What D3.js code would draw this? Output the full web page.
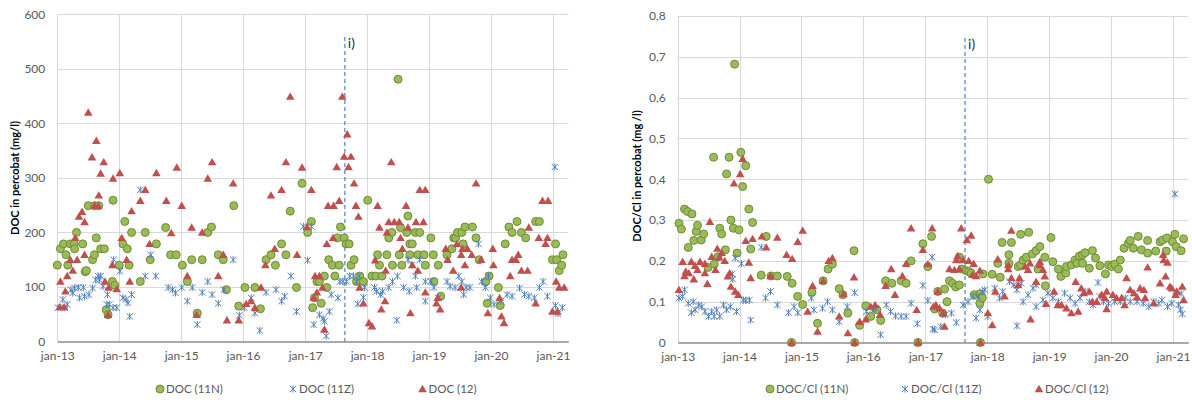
<!DOCTYPE html>
<html>
<head>
<meta charset="utf-8">
<script src="https://cdn.jsdelivr.net/npm/d3@7"></script>
<style>
  body { margin: 0; background: #fff; }
  svg { display: block; font-family: Lato, "Open Sans", sans-serif; }
</style>
</head>
<body>
<svg id="chart" width="1192" height="403"></svg>
<script>
// Sampling dates are written as decimal years; values in mg/l (DOC) and as ratios (DOC/Cl).

const X_TICK_YEARS = [2013, 2014, 2015, 2016, 2017, 2018, 2019, 2020, 2021];
const DOC_Y_TICKS = [0, 100, 200, 300, 400, 500, 600];
const RATIO_Y_TICKS = [0, 0.1, 0.2, 0.3, 0.4, 0.5, 0.6, 0.7, 0.8];
const EVENT_YEAR = 2017.641;
const EVENT_LABEL = "i)";

const DOC_11N = [[2013.00,140],[2013.05,170],[2013.10,179],[2013.14,159],[2013.17,140],[2013.21,179],[2013.27,179],[2013.28,170],[2013.31,200],[2013.41,179],[2013.45,128],[2013.47,130],[2013.50,249],[2013.57,150],[2013.60,249],[2013.60,159],[2013.63,190],[2013.67,249],[2013.70,170],[2013.76,170],[2013.79,58],[2013.82,49],[2013.89,110],[2013.90,259],[2013.93,103],[2014.00,140],[2014.06,179],[2014.09,220],[2014.13,170],[2014.16,140],[2014.20,200],[2014.34,110],[2014.42,200],[2014.50,150],[2014.60,179],[2014.75,209],[2014.83,159],[2014.92,159],[2015.02,140],[2015.10,110],[2015.17,150],[2015.26,52],[2015.34,150],[2015.43,200],[2015.49,210],[2015.60,159],[2015.68,150],[2015.73,95],[2015.85,249],[2015.93,65],[2016.03,99],[2016.19,99],[2016.28,60],[2016.37,150],[2016.45,159],[2016.52,140],[2016.62,179],[2016.69,159],[2016.76,239],[2016.86,99],[2016.95,290],[2017.04,200],[2017.10,220],[2017.12,62],[2017.15,80],[2017.19,110],[2017.23,110],[2017.26,70],[2017.31,120],[2017.35,99],[2017.38,150],[2017.44,140],[2017.48,120],[2017.52,190],[2017.55,140],[2017.57,210],[2017.63,190],[2017.66,179],[2017.71,179],[2017.74,140],[2017.79,150],[2017.83,110],[2017.88,120],[2017.94,110],[2018.01,259],[2018.08,120],[2018.14,120],[2018.17,159],[2018.20,140],[2018.24,120],[2018.32,159],[2018.35,190],[2018.40,200],[2018.41,140],[2018.50,481],[2018.52,159],[2018.54,209],[2018.56,140],[2018.64,200],[2018.66,230],[2018.69,159],[2018.69,179],[2018.73,179],[2018.78,200],[2018.82,159],[2018.85,200],[2018.92,159],[2018.94,140],[2019.03,190],[2019.07,159],[2019.08,110],[2019.15,140],[2019.19,83],[2019.29,159],[2019.37,170],[2019.40,190],[2019.43,190],[2019.46,200],[2019.53,200],[2019.55,179],[2019.58,210],[2019.70,210],[2019.76,190],[2019.81,150],[2019.92,110],[2019.94,70],[2019.97,120],[2020.12,99],[2020.15,66],[2020.23,179],[2020.29,210],[2020.34,200],[2020.42,220],[2020.49,200],[2020.56,190],[2020.72,220],[2020.78,220],[2020.99,150],[2021.04,179],[2021.06,150],[2021.10,130],[2021.14,140],[2021.16,159]];

const DOC_11Z = [[2013.01,62],[2013.09,77],[2013.12,62],[2013.16,68],[2013.22,95],[2013.25,89],[2013.28,98],[2013.34,99],[2013.36,80],[2013.42,99],[2013.44,83],[2013.51,86],[2013.57,98],[2013.62,113],[2013.66,120],[2013.68,113],[2013.70,120],[2013.74,101],[2013.80,68],[2013.81,86],[2013.84,68],[2013.90,62],[2013.91,150],[2013.96,62],[2014.01,129],[2014.06,80],[2014.11,77],[2014.14,71],[2014.17,46],[2014.20,86],[2014.34,278],[2014.42,120],[2014.51,159],[2014.59,120],[2014.79,99],[2014.86,95],[2014.91,89],[2015.01,99],[2015.10,74],[2015.18,99],[2015.26,31],[2015.34,90],[2015.43,110],[2015.50,86],[2015.60,70],[2015.69,95],[2015.84,150],[2015.94,48],[2016.02,62],[2016.13,80],[2016.19,52],[2016.27,20],[2016.37,90],[2016.53,95],[2016.62,74],[2016.67,83],[2016.77,120],[2016.86,55],[2016.97,211],[2017.04,149],[2017.10,211],[2017.14,31],[2017.23,49],[2017.29,42],[2017.31,37],[2017.34,10],[2017.39,55],[2017.42,86],[2017.53,80],[2017.56,110],[2017.61,110],[2017.67,110],[2017.72,120],[2017.78,120],[2017.83,110],[2017.85,69],[2017.87,120],[2017.94,81],[2017.96,99],[2018.12,99],[2018.15,92],[2018.22,86],[2018.25,92],[2018.35,99],[2018.41,110],[2018.48,39],[2018.49,120],[2018.59,99],[2018.66,150],[2018.68,92],[2018.72,140],[2018.78,120],[2018.80,99],[2018.85,150],[2018.94,110],[2018.94,74],[2019.03,110],[2019.08,99],[2019.15,80],[2019.29,110],[2019.34,101],[2019.42,99],[2019.48,120],[2019.53,110],[2019.56,86],[2019.60,99],[2019.66,99],[2019.80,179],[2019.85,110],[2019.91,99],[2019.96,120],[2019.99,80],[2020.05,68],[2020.16,74],[2020.26,86],[2020.34,83],[2020.46,98],[2020.54,86],[2020.61,83],[2020.70,80],[2020.78,99],[2020.84,110],[2020.91,83],[2021.03,320],[2021.04,66],[2021.08,51],[2021.15,62]];

const DOC_12 = [[2013.04,63],[2013.05,110],[2013.11,63],[2013.13,92],[2013.16,120],[2013.21,150],[2013.25,130],[2013.29,190],[2013.32,150],[2013.35,229],[2013.40,238],[2013.44,219],[2013.44,159],[2013.50,420],[2013.56,338],[2013.60,249],[2013.63,368],[2013.66,249],[2013.67,268],[2013.70,308],[2013.75,329],[2013.77,110],[2013.82,49],[2013.83,99],[2013.89,140],[2013.90,299],[2013.96,96],[2014.01,309],[2014.04,190],[2014.12,150],[2014.17,110],[2014.20,239],[2014.34,258],[2014.42,278],[2014.49,179],[2014.60,309],[2014.76,258],[2014.84,199],[2014.93,319],[2015.01,249],[2015.10,120],[2015.17,209],[2015.25,49],[2015.34,200],[2015.43,299],[2015.50,329],[2015.60,120],[2015.68,159],[2015.74,39],[2015.84,290],[2015.93,39],[2016.05,69],[2016.13,74],[2016.19,62],[2016.29,99],[2016.36,140],[2016.45,268],[2016.51,170],[2016.62,278],[2016.69,329],[2016.76,449],[2016.87,159],[2016.95,319],[2017.03,210],[2017.10,278],[2017.14,80],[2017.16,120],[2017.19,90],[2017.23,120],[2017.28,99],[2017.31,22],[2017.35,179],[2017.37,249],[2017.45,190],[2017.46,249],[2017.51,320],[2017.55,258],[2017.60,449],[2017.63,339],[2017.68,380],[2017.70,320],[2017.74,339],[2017.79,290],[2017.82,249],[2017.86,229],[2017.88,99],[2017.94,70],[2018.03,34],[2018.08,28],[2018.13,149],[2018.17,249],[2018.20,209],[2018.23,59],[2018.29,74],[2018.30,130],[2018.32,200],[2018.35,219],[2018.39,329],[2018.44,219],[2018.52,219],[2018.54,190],[2018.57,170],[2018.63,249],[2018.66,209],[2018.70,52],[2018.73,140],[2018.79,219],[2018.82,130],[2018.85,278],[2018.91,219],[2018.94,278],[2018.94,90],[2019.12,70],[2019.14,80],[2019.18,59],[2019.27,170],[2019.30,150],[2019.39,130],[2019.45,179],[2019.52,159],[2019.52,99],[2019.54,170],[2019.58,140],[2019.62,170],[2019.69,159],[2019.76,290],[2019.84,150],[2019.95,52],[2020.03,170],[2020.04,140],[2020.14,80],[2020.17,46],[2020.21,34],[2020.31,120],[2020.34,150],[2020.40,150],[2020.44,159],[2020.49,130],[2020.59,130],[2020.61,209],[2020.72,70],[2020.77,190],[2020.83,258],[2020.88,179],[2020.91,190],[2020.92,258],[2020.99,55],[2021.05,110],[2021.07,55],[2021.10,99],[2021.18,99]];

const RATIO_11N = [[2013.02,0.292],[2013.06,0.278],[2013.11,0.327],[2013.16,0.321],[2013.17,0.233],[2013.23,0.315],[2013.26,0.25],[2013.30,0.272],[2013.32,0.287],[2013.38,0.251],[2013.42,0.266],[2013.49,0.184],[2013.58,0.454],[2013.59,0.192],[2013.65,0.21],[2013.68,0.28],[2013.71,0.266],[2013.77,0.227],[2013.79,0.413],[2013.83,0.454],[2013.86,0.30],[2013.90,0.28],[2013.92,0.682],[2013.96,0.219],[2013.99,0.276],[2014.02,0.466],[2014.05,0.382],[2014.10,0.433],[2014.15,0.327],[2014.18,0.229],[2014.21,0.294],[2014.35,0.165],[2014.43,0.26],[2014.51,0.163],[2014.61,0.163],[2014.77,0.162],[2014.84,0],[2014.85,0.145],[2014.94,0.113],[2015.02,0.093],[2015.17,0.123],[2015.26,0.047],[2015.35,0.151],[2015.43,0.18],[2015.50,0.192],[2015.61,0.132],[2015.67,0.117],[2015.75,0.072],[2015.85,0.225],[2015.86,0],[2015.94,0.042],[2016.04,0.09],[2016.12,0.064],[2016.22,0.08],[2016.28,0.054],[2016.36,0.151],[2016.46,0.145],[2016.61,0.151],[2016.69,0.145],[2016.77,0.2],[2016.88,0],[2016.96,0.242],[2017.04,0.186],[2017.10,0.26],[2017.15,0.082],[2017.20,0.125],[2017.28,0.072],[2017.31,0.131],[2017.35,0.1],[2017.39,0.151],[2017.44,0.145],[2017.49,0.136],[2017.55,0.141],[2017.55,0.209],[2017.59,0.18],[2017.66,0.176],[2017.70,0.174],[2017.74,0.17],[2017.79,0.117],[2017.88,0.119],[2017.88,0.096],[2017.89,0],[2017.92,0.109],[2017.93,0.168],[2018.02,0.40],[2018.08,0.167],[2018.17,0.194],[2018.21,0.16],[2018.24,0.245],[2018.35,0.215],[2018.35,0.194],[2018.39,0.245],[2018.50,0.186],[2018.54,0.19],[2018.54,0.265],[2018.58,0.202],[2018.63,0.209],[2018.67,0.27],[2018.73,0.217],[2018.79,0.225],[2018.82,0.18],[2018.85,0.235],[2018.93,0.209],[2018.94,0.139],[2019.03,0.257],[2019.06,0.198],[2019.15,0.18],[2019.19,0.162],[2019.27,0.17],[2019.28,0.186],[2019.36,0.19],[2019.42,0.202],[2019.45,0.194],[2019.49,0.212],[2019.54,0.215],[2019.54,0.194],[2019.58,0.22],[2019.65,0.182],[2019.70,0.225],[2019.75,0.207],[2019.82,0.188],[2019.91,0.168],[2019.96,0.19],[2020.01,0.186],[2020.06,0.192],[2020.12,0.18],[2020.15,0.202],[2020.21,0.231],[2020.28,0.243],[2020.31,0.25],[2020.36,0.231],[2020.44,0.26],[2020.49,0.227],[2020.59,0.25],[2020.59,0.219],[2020.72,0.224],[2020.79,0.247],[2020.83,0.251],[2020.89,0.224],[2020.90,0.256],[2020.99,0.247],[2021.03,0.265],[2021.05,0.235],[2021.13,0.225],[2021.17,0.254]];

const RATIO_11Z = [[2013.02,0.109],[2013.08,0.113],[2013.11,0.129],[2013.17,0.096],[2013.22,0.073],[2013.25,0.1],[2013.28,0.08],[2013.34,0.092],[2013.39,0.088],[2013.44,0.076],[2013.50,0.064],[2013.55,0.076],[2013.59,0.064],[2013.63,0.08],[2013.68,0.064],[2013.74,0.092],[2013.79,0.08],[2013.85,0.088],[2013.88,0.168],[2013.89,0.155],[2013.93,0.207],[2013.95,0.076],[2014.03,0.193],[2014.06,0.104],[2014.10,0.103],[2014.16,0.104],[2014.18,0.055],[2014.35,0.233],[2014.42,0.109],[2014.50,0.125],[2014.61,0.092],[2014.79,0.073],[2014.88,0.088],[2014.94,0.073],[2015.16,0.109],[2015.20,0.08],[2015.34,0.084],[2015.42,0.1],[2015.50,0.08],[2015.61,0.051],[2015.74,0.088],[2015.86,0.122],[2016.05,0.076],[2016.15,0.082],[2016.20,0.084],[2016.28,0.019],[2016.37,0.092],[2016.44,0.076],[2016.52,0.065],[2016.61,0.064],[2016.69,0.064],[2016.77,0.096],[2016.87,0.046],[2016.96,0.14],[2017.04,0.103],[2017.11,0.209],[2017.12,0.033],[2017.15,0.031],[2017.25,0.039],[2017.32,0.068],[2017.42,0.072],[2017.50,0.049],[2017.61,0.092],[2017.69,0.1],[2017.77,0.113],[2017.82,0.06],[2017.85,0.113],[2017.88,0.08],[2017.92,0.125],[2017.96,0.129],[2018.01,0.064],[2018.12,0.133],[2018.20,0.109],[2018.25,0.125],[2018.36,0.149],[2018.43,0.141],[2018.48,0.129],[2018.48,0.041],[2018.55,0.145],[2018.58,0.1],[2018.66,0.117],[2018.74,0.133],[2018.79,0.141],[2018.79,0.088],[2018.90,0.104],[2018.98,0.121],[2019.06,0.109],[2019.15,0.1],[2019.25,0.121],[2019.34,0.109],[2019.42,0.096],[2019.50,0.109],[2019.58,0.125],[2019.65,0.1],[2019.71,0.092],[2019.79,0.147],[2019.82,0.113],[2019.88,0.1],[2019.96,0.096],[2020.06,0.1],[2020.15,0.1],[2020.23,0.109],[2020.31,0.1],[2020.42,0.1],[2020.52,0.096],[2020.61,0.088],[2020.69,0.1],[2020.77,0.096],[2020.82,0.104],[2020.91,0.088],[2020.98,0.096],[2021.03,0.364],[2021.09,0.092],[2021.12,0.08],[2021.13,0.12],[2021.15,0.07]];

const RATIO_12 = [[2013.02,0.129],[2013.08,0.198],[2013.11,0.163],[2013.13,0.174],[2013.18,0.17],[2013.22,0.198],[2013.26,0.155],[2013.28,0.188],[2013.32,0.178],[2013.36,0.198],[2013.44,0.193],[2013.44,0.17],[2013.48,0.144],[2013.52,0.296],[2013.55,0.21],[2013.61,0.178],[2013.64,0.23],[2013.67,0.209],[2013.71,0.22],[2013.76,0.2],[2013.81,0.162],[2013.84,0.17],[2013.86,0.137],[2013.91,0.39],[2013.93,0.125],[2013.98,0.117],[2014.01,0.413],[2014.05,0.45],[2014.10,0.249],[2014.15,0.196],[2014.18,0.158],[2014.21,0.254],[2014.36,0.26],[2014.43,0.233],[2014.50,0.163],[2014.61,0.257],[2014.76,0.215],[2014.84,0],[2014.85,0.205],[2014.94,0.247],[2015.02,0.274],[2015.10,0.076],[2015.18,0.139],[2015.26,0.027],[2015.35,0.151],[2015.44,0.2],[2015.50,0.207],[2015.61,0.064],[2015.68,0.119],[2015.75,0.023],[2015.85,0.16],[2015.86,0],[2015.94,0.051],[2016.04,0.057],[2016.12,0.088],[2016.19,0.092],[2016.27,0.068],[2016.36,0.139],[2016.45,0.18],[2016.51,0.117],[2016.63,0.163],[2016.69,0.193],[2016.77,0.28],[2016.86,0.08],[2016.88,0],[2016.96,0.227],[2017.04,0.192],[2017.11,0.28],[2017.13,0.088],[2017.17,0.092],[2017.20,0.125],[2017.23,0.084],[2017.29,0.072],[2017.31,0.039],[2017.39,0.18],[2017.47,0.178],[2017.50,0.202],[2017.52,0.212],[2017.55,0.18],[2017.58,0.28],[2017.61,0.202],[2017.67,0.251],[2017.70,0.2],[2017.74,0.262],[2017.76,0.166],[2017.78,0.193],[2017.82,0.163],[2017.88,0.176],[2017.89,0],[2018.01,0.072],[2018.08,0.043],[2018.13,0.125],[2018.17,0.204],[2018.28,0.113],[2018.34,0.19],[2018.34,0.18],[2018.39,0.274],[2018.39,0.158],[2018.50,0.141],[2018.52,0.158],[2018.61,0.186],[2018.66,0.178],[2018.69,0.194],[2018.70,0.057],[2018.79,0.149],[2018.85,0.19],[2018.85,0.198],[2018.90,0.178],[2018.93,0.162],[2018.95,0.095],[2019.08,0.125],[2019.14,0.092],[2019.20,0.092],[2019.28,0.084],[2019.36,0.072],[2019.43,0.149],[2019.47,0.076],[2019.52,0.133],[2019.56,0.121],[2019.65,0.125],[2019.70,0.1],[2019.77,0.1],[2019.85,0.117],[2019.90,0.109],[2019.93,0.125],[2019.93,0.082],[2020.03,0.117],[2020.09,0.109],[2020.17,0.109],[2020.22,0.092],[2020.25,0.158],[2020.31,0.129],[2020.37,0.121],[2020.42,0.111],[2020.47,0.133],[2020.53,0.129],[2020.55,0.109],[2020.59,0.184],[2020.69,0.096],[2020.79,0.145],[2020.84,0.215],[2020.85,0.202],[2020.88,0.162],[2020.91,0.196],[2020.95,0.137],[2020.98,0.133],[2021.04,0.117],[2021.06,0.125],[2021.15,0.137],[2021.17,0.104]];

const COLORS = { n: "#9BBB59", nStroke: "#6E8C33", z: "#4F81BD", r: "#C0504D" };
const TEXT = "#595959";

const svg = d3.select("#chart");

// decimal year -> Date
function toDate(v) {
  const yr = Math.floor(v);
  const a = new Date(yr, 0, 1), b = new Date(yr + 1, 0, 1);
  return new Date(+a + (v - yr) * (b - a));
}

const markers = {
  circle: (g, color) => g.append("circle").attr("r", 4)
    .attr("fill", COLORS.n).attr("stroke", COLORS.nStroke).attr("stroke-width", 1),
  star: (g, color) => g.append("path")
    .attr("d", "M0,-3.6V3.6M-3.2,-3.2L3.2,3.2M-3.2,3.2L3.2,-3.2")
    .attr("stroke", COLORS.z).attr("stroke-width", 1).attr("fill", "none"),
  tri: (g, color) => g.append("path")
    .attr("d", "M0,-4.2L4.3,3.2L-4.3,3.2Z").attr("fill", COLORS.r)
};

function drawPanel(cfg) {
  const x = d3.scaleTime()
    .domain([new Date(2013, 0, 1), new Date(2021, 3, 1)])
    .range([cfg.x0, cfg.x1]);
  const y = d3.scaleLinear().domain([0, cfg.yMax]).range([cfg.yBottom, cfg.yTop]);
  const g = svg.append("g");
  const yearDates = X_TICK_YEARS.map(v => new Date(v, 0, 1));

  // gridlines
  g.append("g").selectAll("line").data(cfg.yTicks.filter(d => d > 0)).join("line")
    .attr("x1", cfg.x0).attr("x2", cfg.x1)
    .attr("y1", d => Math.round(y(d)) + 0.5).attr("y2", d => Math.round(y(d)) + 0.5)
    .attr("stroke", "#d9d9d9");
  g.append("g").selectAll("line").data(yearDates).join("line")
    .attr("x1", d => Math.round(x(d)) + 0.5).attr("x2", d => Math.round(x(d)) + 0.5)
    .attr("y1", y(cfg.yMax)).attr("y2", y(0))
    .attr("stroke", "#d9d9d9");

  // axes
  const xAxis = g.append("g").attr("transform", `translate(0,${y(0)})`)
    .call(d3.axisBottom(x).tickValues(yearDates).tickFormat(d3.timeFormat("jan-%y")).tickSize(0).tickPadding(10));
  xAxis.select(".domain").attr("stroke", "#8c8c8c").attr("stroke-width", 1.5);
  xAxis.selectAll("text").attr("fill", TEXT).style("font-size", "12px").style("font-family", "Lato, sans-serif");

  const yAxis = g.append("g").attr("transform", `translate(${cfg.x0},0)`)
    .call(d3.axisLeft(y).tickValues(cfg.yTicks).tickFormat(cfg.yFormat).tickSize(0).tickPadding(12));
  yAxis.select(".domain").remove();
  yAxis.selectAll("text").attr("fill", TEXT).style("font-size", "12px").style("font-family", "Lato, sans-serif");

  // axis title
  g.append("text")
    .attr("transform", `translate(${cfg.titleX},${cfg.titleY}) rotate(-90)`)
    .attr("text-anchor", "middle").attr("dy", "0.35em")
    .style("font-size", "11px").style("font-weight", "bold").attr("fill", "#000")
    .text(cfg.yTitle);

  // event line
  const ex = x(toDate(EVENT_YEAR));
  g.append("line").attr("x1", ex).attr("x2", ex).attr("y1", cfg.eventTop).attr("y2", y(0))
    .attr("stroke", "#4F81BD").attr("stroke-width", 1.2).attr("stroke-dasharray", "4,3");
  g.append("text").attr("x", ex + 3).attr("y", cfg.eventTop + 11)
    .style("font-size", "14px").attr("fill", "#1F2D50").text(EVENT_LABEL);

  // series
  cfg.series.forEach(s => {
    const pts = g.append("g").selectAll("g").data(s.data).join("g")
      .attr("transform", d => `translate(${x(toDate(d[0]))},${y(d[1])})`);
    pts.each(function () { markers[s.marker](d3.select(this)); });
  });

  // legend
  cfg.series.forEach((s, i) => {
    const lg = g.append("g").attr("transform", `translate(${cfg.legendX[i]},${cfg.legendY})`);
    markers[s.marker](lg);
    lg.append("text").attr("x", 6).attr("dy", "0.35em").attr("fill", TEXT)
      .style("font-size", "11.5px").text(s.name);
  });
}

drawPanel({
  x0: 57.3, x1: 568.3, yBottom: 341.5, yTop: 14.3, yMax: 600,
  yTicks: DOC_Y_TICKS, yFormat: d3.format("d"),
  yTitle: "DOC in percobat (mg/l)", titleX: 15, titleY: 178,
  eventTop: 37,
  legendX: [160, 293, 422.5], legendY: 389,
  series: [
    { name: "DOC (11N)", data: DOC_11N, marker: "circle" },
    { name: "DOC (11Z)", data: DOC_11Z, marker: "star" },
    { name: "DOC (12)", data: DOC_12, marker: "tri" }
  ]
});

drawPanel({
  x0: 677.7, x1: 1188.3, yBottom: 342.5, yTop: 16, yMax: 0.8,
  yTicks: RATIO_Y_TICKS, yFormat: d => d === 0 ? "0" : d3.format(".1f")(d).replace(".", ","),
  yTitle: "DOC/Cl in percobat (mg /l)", titleX: 637, titleY: 176,
  eventTop: 38,
  legendX: [770, 905, 1039], legendY: 389,
  series: [
    { name: "DOC/Cl (11N)", data: RATIO_11N, marker: "circle" },
    { name: "DOC/Cl (11Z)", data: RATIO_11Z, marker: "star" },
    { name: "DOC/Cl (12)", data: RATIO_12, marker: "tri" }
  ]
});
</script>
</body>
</html>
